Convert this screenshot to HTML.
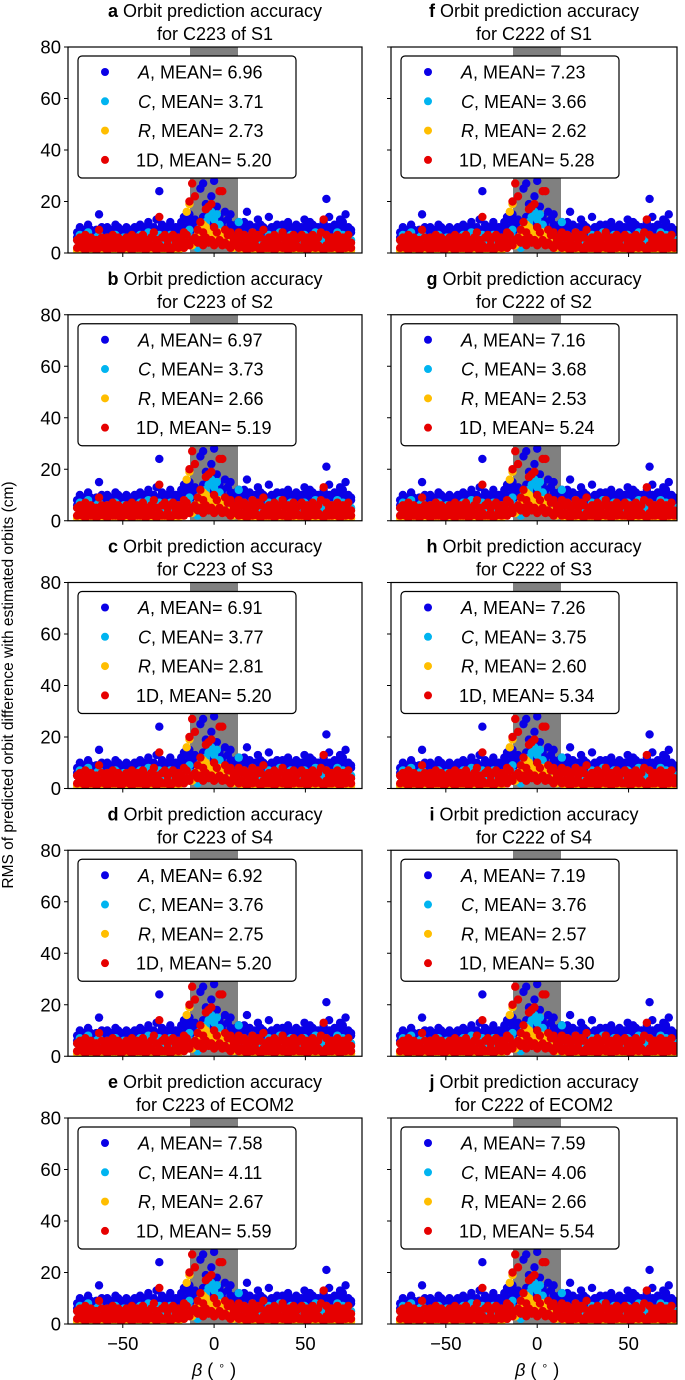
<!DOCTYPE html>
<html><head><meta charset="utf-8"><style>
body{margin:0;background:#fff;}
svg{display:block;font-family:"Liberation Sans",sans-serif;}
</style></head><body>
<svg id="fig" width="685" height="1380" viewBox="0 0 685 1380" xmlns="http://www.w3.org/2000/svg">
<defs id="defs"></defs>
<g id="bands"></g>
<text transform="translate(13,685) rotate(-90)" text-anchor="middle" font-size="15.5">RMS of predicted orbit difference with estimated orbits (cm)</text>
</svg>
<script>
const betas=[-75,-73.5,-72,-70.5,-69,-67.5,-66,-64.5,-63,-61.5,
-60,-58.5,-57,-55.5,-54,-52.5,-51,-49.5,-48,-46.5,
-45,-43.5,-42,-40.5,-39,-37.5,-36,-34.5,-33,-31.5,
-30,-28.5,-27,-25.5,-24,-22.5,-21,-19.5,-18,-16.5,
-15,-13.5,-12,-10.5,-9,-7.5,-6,-4.5,-3,-1.5,
0,1.5,3,4.5,6,7.5,9,10.5,12,13.5,
15,16.5,18,19.5,21,22.5,24,25.5,27,28.5,
30,31.5,33,34.5,36,37.5,39,40.5,42,43.5,
45,46.5,48,49.5,51,52.5,54,55.5,57,58.5,
60,61.5,63,64.5,66,67.5,69,70.5,72,73.5,75];
const seriesA=[8,10,7,9,11,8,6,9,15,8,7,10,9,8,11,8,7,9,10,8,9,10,7,11,10,8,12,9,8,13,24,11,10,9,12,9,8,10,12,14,13,15,12,11,10,25,27,19,15,22,28,18,14,12,16,13,15,10,11,12,9,12,16,9,8,10,13,11,8,9,14,10,8,11,9,8,10,12,9,8,11,9,10,13,9,12,11,9,10,9,12,21,14,10,11,9,13,12,15,10,9];
const seriesA2=[6,7,9,6,7,9,8,7,6,10,8,7,6,9,7,10,8,6,7,9,7,6,9,8,7,10,7,6,10,8,9,7,8,10,7,8,10,7,9,8,10,12,9,13,8,12,14,10,9,13,11,12,9,10,8,9,11,8,9,7,10,8,9,11,7,9,8,7,10,8,9,7,10,8,9,11,7,8,10,9,8,10,7,9,11,8,7,10,8,7,9,8,10,9,7,8,10,9,8,7,8];
const seriesC=[5,7,4,6,8,5,3,6,7,5,4,6,5,3,7,5,4,6,5,4,6,5,3,7,6,4,8,5,3,6,7,5,6,4,7,5,3,6,5,7,8,9,6,4,2,10,3,12,14,16,13,15,11,8,6,7,5,6,4,12,5,7,6,4,8,5,3,6,5,4,7,6,4,5,8,6,3,5,7,4,6,5,3,7,5,6,4,8,5,6,4,7,5,6,3,8,5,7,4,6,5];
const seriesR=[1,2,1,0.5,2,1,1.5,0.5,2,1,1,0.5,2,1.5,1,2,0.5,1,2,1,1.5,0.5,2,1,1,2,0.5,1.5,1,2,1,2,1,3,2,1.5,2,1,3,2,16,19,3,5,7,9,11,10,8,6,7,5,8,6,4,3,4,2,3,2,1,2,1.5,1,2,1,0.5,2,1,1.5,1,2,1,0.5,2,1.5,1,2,1,0.5,2,1,1.5,2,1,0.5,2,1,1.5,1,2,1,0.5,2,1,1.5,1,2,1,0.5,1];
const series1D=[5,6,4,7,5,6,3,5,9,6,4,6,5,7,4,6,5,4,6,5,7,4,6,5,7,5,4,6,8,5,14,6,7,5,6,7,4,6,5,8,7,20,27,22,9,12,8,17,18,19,10,8,24,24,9,7,8,6,5,8,6,7,5,6,8,5,7,6,9,5,6,4,7,5,6,8,5,6,4,7,5,6,7,4,6,5,7,5,6,8,13,7,5,6,4,7,5,6,5,7,4];
const series1Dlow=[2,3,2,1,3,2,3,1,2,3,2,1,3,2,2,3,1,2,3,2,1,3,2,2,3,1,2,3,2,1,3,2,2,3,1,2,3,2,3,2,4,3,5,6,4,5,3,6,4,5,3,4,5,3,4,3,2,4,3,2,3,2,1,3,2,3,2,1,3,2,2,3,1,2,3,2,2,1,3,2,3,2,2,3,1,2,3,2,3,2,1,3,2,2,3,2,1,3,2,3,2];
const panelLetters=["a","b","c","d","e","f","g","h","i","j"];
const panelSat=["C223","C223","C223","C223","C223","C222","C222","C222","C222","C222"];
const panelSol=["S1","S2","S3","S4","ECOM2","S1","S2","S3","S4","ECOM2"];
const meanA=["6.96","6.97","6.91","6.92","7.58","7.23","7.16","7.26","7.19","7.59"];
const meanC=["3.71","3.73","3.77","3.76","4.11","3.66","3.68","3.75","3.76","4.06"];
const meanR=["2.73","2.66","2.81","2.75","2.67","2.62","2.53","2.60","2.57","2.66"];
const mean1D=["5.20","5.19","5.20","5.20","5.59","5.28","5.24","5.34","5.30","5.54"];
const yTicks=[0,20,40,60,80];
const xTicks=[-50,0,50];
const xTickLabels=["−50","0","50"];

const NS="http://www.w3.org/2000/svg";
const svg=document.getElementById('fig');
const defs=document.getElementById('defs');
const bands=document.getElementById('bands');
function mk(tag,attrs,parent){const e=document.createElementNS(NS,tag);for(const k in attrs)e.setAttribute(k,attrs[k]);(parent||svg).appendChild(e);return e;}
const colors={A:"#0a00e6",C:"#00b4f0",R:"#ffbe00",D:"#e60000"};
for(let p=0;p<10;p++){
  const col=p<5?0:1,row=p%5;
  const L=col?391:68,W=col?286:294,T=47+row*267.75,H=206;
  const x0=-80,x1=col?76.5:81;
  const xs=v=>L+(v-x0)/(x1-x0)*W;
  const ys=v=>T+(80-v)/80*H;
  const bx0=Math.round(xs(-13)),bx1=Math.round(xs(13));
  const bandL=mk('rect',{x:bx0,y:T,width:bx1-bx0,height:H,style:'fill:#808080;fill-opacity:1;stroke:none'},bands);
  
  
  const g=mk('g',{});
  
  
  const cx=L+W/2;
  const t1=mk('text',{x:cx,y:T-30,'text-anchor':'middle','font-size':18},g);
  
  
  t1.innerHTML='<tspan font-weight="bold">'+panelLetters[p]+'</tspan> Orbit prediction accuracy';
  const t2=mk('text',{x:cx,y:T-7,'text-anchor':'middle','font-size':18},g);
  
  
  t2.textContent='for '+panelSat[p]+' of '+panelSol[p];
  const cid='clip'+p;
  const cp=mk('clipPath',{id:cid},defs);mk('rect',{x:L,y:T,width:W,height:H},cp);
  const dg=mk('g',{'clip-path':'url(#'+cid+')'},g);
  const draw=(arr,c,name)=>{arr.forEach((v,i)=>{const d=mk('circle',{cx:xs(betas[i]),cy:ys(v),r:4.2,fill:c},dg);
    
    });};
  draw(seriesA,colors.A,'point-a');
  draw(seriesA2,colors.A,'point-a');
  draw(seriesC,colors.C,'point-c');
  draw(seriesR,colors.R,'point-r');
  draw(series1D,colors.D,'point-1d');
  draw(series1Dlow,colors.D,'point-1d');
  mk('rect',{x:L,y:T,width:W,height:H,fill:'none',stroke:'#000','stroke-width':1.2},g);
  yTicks.forEach(v=>{mk('line',{x1:L-4,x2:L,y1:ys(v),y2:ys(v),stroke:'#000'},g);
    if(!col){const tl=mk('text',{x:L-7,y:ys(v)+6.5,'text-anchor':'end','font-size':18.5},g);
      
      
      tl.textContent=v;}});
  xTicks.forEach((v,i)=>{mk('line',{x1:xs(v),x2:xs(v),y1:T+H,y2:T+H+4,stroke:'#000'},g);
    if(row===4){const tl=mk('text',{x:xs(v),y:T+H+26,'text-anchor':'middle','font-size':18.5},g);
      
      
      tl.textContent=xTickLabels[i];}});
  if(row===4){const xl=mk('text',{x:xs(0),y:1376,'text-anchor':'middle','font-size':18},g);
    
    
    xl.innerHTML='<tspan font-style="italic">β</tspan> ( <tspan font-size="11" dy="-7">∘</tspan><tspan dy="7"> )</tspan>';}
  const lg=mk('g',{},g);
  
  
  const lx=L+10,ly=T+9;
  mk('rect',{x:lx,y:ly,width:218,height:122,rx:4,fill:'#fff',stroke:'#000','stroke-width':1.2},lg);
  const ents=[['A',meanA[p],colors.A,true],['C',meanC[p],colors.C,true],['R',meanR[p],colors.R,true],['1D',mean1D[p],colors.D,false]];
  ents.forEach((e,k)=>{const yy=ly+16+k*29.3;
    const m=mk('circle',{cx:lx+27,cy:yy,r:4,fill:e[2]},lg);
    
    
    const t=mk('text',{x:lx+(e[3]?60:58),y:yy+6.5,'font-size':18},lg);
    
    
    t.innerHTML=(e[3]?'<tspan font-style="italic">'+e[0]+'</tspan>':e[0])+', MEAN= '+e[1];});
}
</script>
</body></html>
